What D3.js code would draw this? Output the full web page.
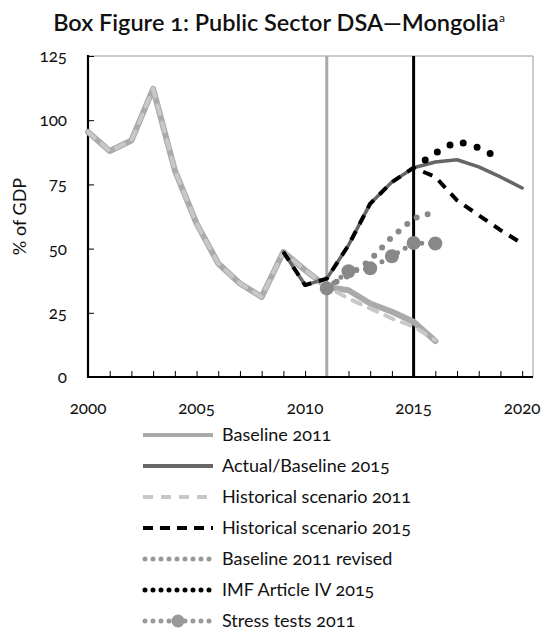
<!DOCTYPE html>
<html><head><meta charset="utf-8">
<script src="https://cdn.jsdelivr.net/npm/d3@7"></script>
<style>
body{margin:0;background:#fff;}
svg text{font-family:Lato,"Open Sans",sans-serif;font-feature-settings:"onum" 1;fill:#111;}
</style></head>
<body><svg id="c" width="546" height="633"></svg>
<script>
// ---- data ----
const histYears = [2000,2001,2002,2003,2004,2005,2006,2007,2008,2009,2010,2011];
const histValues = [95.4,88.0,92.1,112.2,80.5,59.8,44.2,36.4,31.2,48.7,41.6,35.1];
const baseline2011Years = [2012,2013,2014,2015,2016];
const baseline2011Values = [33.8,28.6,25.4,21.5,14.0];
const historical2011Values = [30.6,26.7,22.8,19.6,14.4];
const actual2015Years = [2009,2010,2011,2012,2013,2014,2015,2016,2017,2018,2019,2020];
const actual2015Values = [48.7,35.8,38.3,51.3,67.5,75.9,81.5,83.7,84.6,81.8,77.9,73.6];
const historical2015Years = [2009,2010,2011,2012,2013,2014,2015,2016,2017,2018,2019,2020];
const historical2015Values = [48.7,35.8,38.3,51.3,67.5,75.9,81.5,77.9,68.8,63.0,57.2,52.0];
const imfYears = [2015,2016,2017,2018,2019];
const imfValues = [81.5,87.2,91.9,89.3,85.0];
const revisedYears = [2011,2012,2013,2014,2015,2016];
const revisedValues = [35.1,39.5,45.5,54.5,61.7,64.3];
const stressYears = [2011,2012,2013,2014,2015,2016];
const stressValues = [34.5,41.2,42.3,47.0,52.2,52.0];
const yTicks = [0,25,50,75,100,125];
const xTicks = [2000,2005,2010,2015,2020];
const legendLabels = ["Baseline 2011","Actual/Baseline 2015","Historical scenario 2011","Historical scenario 2015","Baseline 2011 revised","IMF Article IV 2015","Stress tests 2011"];

const svg = d3.select("#c");
const x = d3.scaleLinear().domain([2000,2020.5]).range([88,533]);
const y = d3.scaleLinear().domain([0,125]).range([377,56]);

// title
const t = svg.append("text").attr("x",279).attr("y",31).attr("text-anchor","middle")
  .style("font-size","23.5px").style("font-weight","600");
t.append("tspan").text("Box Figure 1: Public Sector DSA\u2014Mongolia");
t.append("tspan").text("a").attr("dy",-9).style("font-size","12px").style("font-weight","400");

// frame
svg.append("line").attr("x1",x(2000)).attr("x2",x(2020.5)).attr("y1",y(125)).attr("y2",y(125)).attr("stroke","#999").attr("stroke-width",1);
svg.append("line").attr("x1",x(2020.5)).attr("x2",x(2020.5)).attr("y1",y(125)).attr("y2",y(0)).attr("stroke","#999").attr("stroke-width",1);

// axes
const yAxis = d3.axisRight(y).tickValues(yTicks).tickSize(6).tickFormat("");
const gy = svg.append("g").attr("transform",`translate(${x(2000)},0)`).call(yAxis);
gy.select(".domain").remove();
gy.selectAll(".tick line").attr("stroke","#000");
yTicks.forEach(v=>{
  svg.append("text").attr("x",67).attr("y",y(v)+6).attr("text-anchor","end").style("font-size","17px").text(v);
});
const xAxis = d3.axisTop(x).tickValues(d3.range(2000,2021)).tickSize(6).tickFormat("");
const gx = svg.append("g").attr("transform",`translate(0,${y(0)})`).call(xAxis);
gx.select(".domain").remove();
gx.selectAll(".tick line").attr("stroke","#000");
xTicks.forEach(v=>{
  svg.append("text").attr("x",x(v)).attr("y",414).attr("text-anchor","middle").style("font-size","17px").text(v);
});
svg.append("text").attr("transform",`translate(26,${(y(0)+y(125))/2}) rotate(-90)`).attr("text-anchor","middle").style("font-size","18px").text("% of GDP");

// vertical markers
svg.append("line").attr("x1",x(2011)).attr("x2",x(2011)).attr("y1",y(125)).attr("y2",y(0)).attr("stroke","#aaa").attr("stroke-width",3);
svg.append("line").attr("x1",x(2015)).attr("x2",x(2015)).attr("y1",y(125)).attr("y2",y(0)).attr("stroke","#000").attr("stroke-width",3);

// axis lines
svg.append("line").attr("x1",x(2000)).attr("x2",x(2000)).attr("y1",y(125)-1).attr("y2",y(0)+1).attr("stroke","#000").attr("stroke-width",2.2);
svg.append("line").attr("x1",x(2000)-1).attr("x2",x(2020.5)).attr("y1",y(0)).attr("y2",y(0)).attr("stroke","#000").attr("stroke-width",2.2);

const line = d3.line().x(d=>x(d[0])).y(d=>y(d[1]));
const zip = (a,b)=>a.map((v,i)=>[v,b[i]]);
const histPts = zip(histYears,histValues);
const base11 = histPts.concat(zip(baseline2011Years,baseline2011Values));
const hist11 = histPts.concat(zip(baseline2011Years,historical2011Values));

function path(pts,color,w,dash){
  const p = svg.append("path").attr("d",line(pts)).attr("fill","none").attr("stroke",color)
    .attr("stroke-width",w).attr("stroke-linejoin","round").attr("stroke-linecap","round");
  if(dash) p.attr("stroke-dasharray",dash);
  return p;
}
path(base11,"#aaa",6);
path(hist11,"#c8c8c8",4,"9,9");
path(zip(actual2015Years,actual2015Values),"#666",3.5);
path(zip(historical2015Years,historical2015Values),"#000",4,"10,8").attr("stroke-linecap","butt");
path(zip(imfYears,imfValues),"#000",7,"0,14.5").attr("stroke-dashoffset",-14);
path(zip(revisedYears,revisedValues),"#888",6,"0,11.5").attr("stroke-dashoffset",-11);
path(zip(stressYears,stressValues),"#888",5,"0,9").attr("stroke-dashoffset",-9);
svg.selectAll(".stress").data(zip(stressYears,stressValues)).join("circle")
  .attr("cx",d=>x(d[0])).attr("cy",d=>y(d[1])).attr("r",7).attr("fill","#888");

// legend
const ly0 = 435, ldy = 31, lx1 = 143, lx2 = 213;
const styles = [
  {c:"#aaa",w:4},
  {c:"#666",w:4},
  {c:"#c8c8c8",w:4,d:"10,8"},
  {c:"#000",w:4,d:"10,7"},
  {c:"#999",w:5,d:"0,8",cap:"round"},
  {c:"#000",w:5,d:"0,8",cap:"round"},
  {c:"#999",w:5,d:"0,8",cap:"round",marker:true}
];
legendLabels.forEach((lab,i)=>{
  const yy = ly0 + i*ldy;
  const s = styles[i];
  const l = svg.append("line").attr("x1",lx1+(s.cap?2:0)).attr("x2",lx2-(s.cap?2:0)).attr("y1",yy).attr("y2",yy)
    .attr("stroke",s.c).attr("stroke-width",s.w);
  if(s.d) l.attr("stroke-dasharray",s.d);
  if(s.cap) l.attr("stroke-linecap","round");
  if(s.marker) svg.append("circle").attr("cx",178).attr("cy",yy).attr("r",6.5).attr("fill","#999");
  svg.append("text").attr("x",222).attr("y",yy+6).style("font-size","18px").text(lab);
});
</script></body></html>
